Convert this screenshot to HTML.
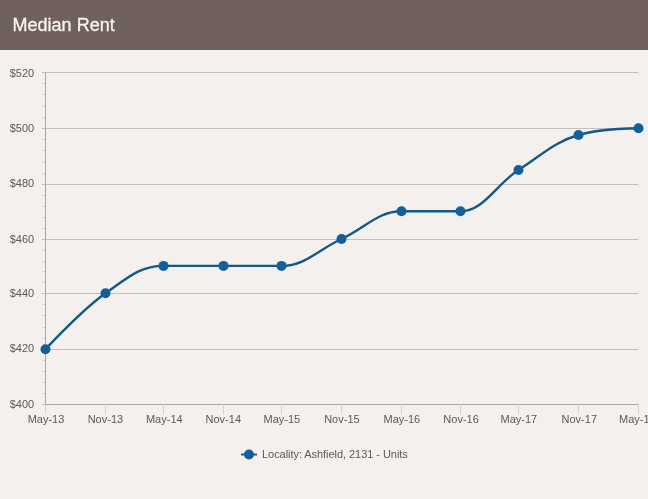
<!DOCTYPE html>
<html><head><meta charset="utf-8"><title>Median Rent</title>
<style>
html,body{margin:0;padding:0;background:#f3f0ed;}
body{width:648px;height:499px;overflow:hidden;position:relative;font-family:"Liberation Sans",Arial,Helvetica,sans-serif;}
.hd{position:absolute;left:0;top:0;width:648px;height:49.6px;background:#70615d;}
.hd h1{margin:0;position:absolute;left:12.6px;top:14px;font-size:18px;line-height:22px;font-weight:normal;color:#f8f4ee;-webkit-text-stroke:0.3px #f8f4ee;white-space:nowrap;}
svg{position:absolute;left:0;top:0;}
svg text{font-family:"Liberation Sans",Arial,Helvetica,sans-serif;font-size:11px;fill:#5a5a5a;}
</style></head><body>
<div class="hd"><h1>Median Rent</h1></div>
<svg width="648" height="499" viewBox="0 0 648 499">

 <path d="M 42.0 72.50 L 638.5 72.50" stroke="#c3c1be" stroke-width="1" fill="none"/>
<text x="34.2" y="77" text-anchor="end">$520</text>
 <path d="M 42.0 128.50 L 638.5 128.50" stroke="#c3c1be" stroke-width="1" fill="none"/>
<text x="34.2" y="132" text-anchor="end">$500</text>
 <path d="M 42.0 184.50 L 638.5 184.50" stroke="#c3c1be" stroke-width="1" fill="none"/>
<text x="34.2" y="187" text-anchor="end">$480</text>
 <path d="M 42.0 239.50 L 638.5 239.50" stroke="#c3c1be" stroke-width="1" fill="none"/>
<text x="34.2" y="243" text-anchor="end">$460</text>
 <path d="M 42.0 293.50 L 638.5 293.50" stroke="#c3c1be" stroke-width="1" fill="none"/>
<text x="34.2" y="297" text-anchor="end">$440</text>
 <path d="M 42.0 349.50 L 638.5 349.50" stroke="#c3c1be" stroke-width="1" fill="none"/>
<text x="34.2" y="352" text-anchor="end">$420</text>
 <path d="M 42.0 404.50 L 638.5 404.50" stroke="#c3c1be" stroke-width="1" fill="none"/>
<text x="34.2" y="408" text-anchor="end">$400</text>
 <path d="M 42.0 83.5 L 45.5 83.5" stroke="#d6d4d0" stroke-width="1" fill="none"/>
 <path d="M 42.0 94.5 L 45.5 94.5" stroke="#d6d4d0" stroke-width="1" fill="none"/>
 <path d="M 42.0 106.5 L 45.5 106.5" stroke="#d6d4d0" stroke-width="1" fill="none"/>
 <path d="M 42.0 117.5 L 45.5 117.5" stroke="#d6d4d0" stroke-width="1" fill="none"/>
 <path d="M 42.0 139.5 L 45.5 139.5" stroke="#d6d4d0" stroke-width="1" fill="none"/>
 <path d="M 42.0 150.5 L 45.5 150.5" stroke="#d6d4d0" stroke-width="1" fill="none"/>
 <path d="M 42.0 162.5 L 45.5 162.5" stroke="#d6d4d0" stroke-width="1" fill="none"/>
 <path d="M 42.0 173.5 L 45.5 173.5" stroke="#d6d4d0" stroke-width="1" fill="none"/>
 <path d="M 42.0 195.5 L 45.5 195.5" stroke="#d6d4d0" stroke-width="1" fill="none"/>
 <path d="M 42.0 206.5 L 45.5 206.5" stroke="#d6d4d0" stroke-width="1" fill="none"/>
 <path d="M 42.0 217.5 L 45.5 217.5" stroke="#d6d4d0" stroke-width="1" fill="none"/>
 <path d="M 42.0 228.5 L 45.5 228.5" stroke="#d6d4d0" stroke-width="1" fill="none"/>
 <path d="M 42.0 250.5 L 45.5 250.5" stroke="#d6d4d0" stroke-width="1" fill="none"/>
 <path d="M 42.0 261.5 L 45.5 261.5" stroke="#d6d4d0" stroke-width="1" fill="none"/>
 <path d="M 42.0 271.5 L 45.5 271.5" stroke="#d6d4d0" stroke-width="1" fill="none"/>
 <path d="M 42.0 282.5 L 45.5 282.5" stroke="#d6d4d0" stroke-width="1" fill="none"/>
 <path d="M 42.0 304.5 L 45.5 304.5" stroke="#d6d4d0" stroke-width="1" fill="none"/>
 <path d="M 42.0 315.5 L 45.5 315.5" stroke="#d6d4d0" stroke-width="1" fill="none"/>
 <path d="M 42.0 327.5 L 45.5 327.5" stroke="#d6d4d0" stroke-width="1" fill="none"/>
 <path d="M 42.0 338.5 L 45.5 338.5" stroke="#d6d4d0" stroke-width="1" fill="none"/>
 <path d="M 42.0 360.5 L 45.5 360.5" stroke="#d6d4d0" stroke-width="1" fill="none"/>
 <path d="M 42.0 371.5 L 45.5 371.5" stroke="#d6d4d0" stroke-width="1" fill="none"/>
 <path d="M 42.0 382.5 L 45.5 382.5" stroke="#d6d4d0" stroke-width="1" fill="none"/>
 <path d="M 42.0 393.5 L 45.5 393.5" stroke="#d6d4d0" stroke-width="1" fill="none"/>
<path d="M 45.5 72.5 L 45.5 404.5" stroke="#a9a7a3" stroke-width="1" fill="none"/>
<path d="M 45.5 404.5 L 638.5 404.5" stroke="#a9a7a3" stroke-width="1" fill="none"/>
<path d="M 45.5 404.5 L 45.5 414.5" stroke="#d4d2cf" stroke-width="1" fill="none"/>
<text x="46.00" y="422.5" text-anchor="middle">May-13</text>
<path d="M 105.5 404.5 L 105.5 414.5" stroke="#d4d2cf" stroke-width="1" fill="none"/>
<text x="105.40" y="422.5" text-anchor="middle">Nov-13</text>
<path d="M 163.5 404.5 L 163.5 414.5" stroke="#d4d2cf" stroke-width="1" fill="none"/>
<text x="164.30" y="422.5" text-anchor="middle">May-14</text>
<path d="M 223.5 404.5 L 223.5 414.5" stroke="#d4d2cf" stroke-width="1" fill="none"/>
<text x="223.30" y="422.5" text-anchor="middle">Nov-14</text>
<path d="M 281.5 404.5 L 281.5 414.5" stroke="#d4d2cf" stroke-width="1" fill="none"/>
<text x="281.90" y="422.5" text-anchor="middle">May-15</text>
<path d="M 341.5 404.5 L 341.5 414.5" stroke="#d4d2cf" stroke-width="1" fill="none"/>
<text x="341.90" y="422.5" text-anchor="middle">Nov-15</text>
<path d="M 401.5 404.5 L 401.5 414.5" stroke="#d4d2cf" stroke-width="1" fill="none"/>
<text x="401.90" y="422.5" text-anchor="middle">May-16</text>
<path d="M 460.5 404.5 L 460.5 414.5" stroke="#d4d2cf" stroke-width="1" fill="none"/>
<text x="461.10" y="422.5" text-anchor="middle">Nov-16</text>
<path d="M 518.5 404.5 L 518.5 414.5" stroke="#d4d2cf" stroke-width="1" fill="none"/>
<text x="518.90" y="422.5" text-anchor="middle">May-17</text>
<path d="M 578.5 404.5 L 578.5 414.5" stroke="#d4d2cf" stroke-width="1" fill="none"/>
<text x="579.30" y="422.5" text-anchor="middle">Nov-17</text>
<path d="M 638.5 404.5 L 638.5 414.5" stroke="#d4d2cf" stroke-width="1" fill="none"/>
<text x="637.40" y="422.5" text-anchor="middle">May-18</text>
<path d="M 45.50 349.30 C 45.50 349.30 81.50 310.26 105.50 293.30 C 128.70 276.90 140.30 265.90 163.50 265.90 C 187.50 265.90 199.50 265.90 223.50 265.90 C 246.70 265.90 258.30 265.90 281.50 265.90 C 305.50 265.90 317.50 249.92 341.50 239.00 C 365.50 228.08 377.50 211.30 401.50 211.30 C 425.10 211.30 436.90 211.30 460.50 211.30 C 483.70 211.30 495.30 185.00 518.50 170.00 C 542.50 154.48 554.50 141.80 578.50 135.00 C 602.50 128.20 638.50 128.20 638.50 128.20" stroke="#115a88" stroke-width="2.4" fill="none" stroke-linejoin="round" stroke-linecap="round"/>
<circle cx="45.50" cy="349.30" r="5" fill="#12609a"/>
<circle cx="105.50" cy="293.30" r="5" fill="#12609a"/>
<circle cx="163.50" cy="265.90" r="5" fill="#12609a"/>
<circle cx="223.50" cy="265.90" r="5" fill="#12609a"/>
<circle cx="281.50" cy="265.90" r="5" fill="#12609a"/>
<circle cx="341.50" cy="239.00" r="5" fill="#12609a"/>
<circle cx="401.50" cy="211.30" r="5" fill="#12609a"/>
<circle cx="460.50" cy="211.30" r="5" fill="#12609a"/>
<circle cx="518.50" cy="170.00" r="5" fill="#12609a"/>
<circle cx="578.50" cy="135.00" r="5" fill="#12609a"/>
<circle cx="638.50" cy="128.20" r="5" fill="#12609a"/>
<path d="M 241 454.5 L 257 454.5" stroke="#12609a" stroke-width="2" fill="none"/>
<circle cx="249" cy="454.5" r="5" fill="#12609a"/>
<text x="262" y="458" style="letter-spacing:-0.05px">Locality: Ashfield, 2131 - Units</text>
</svg></body></html>
